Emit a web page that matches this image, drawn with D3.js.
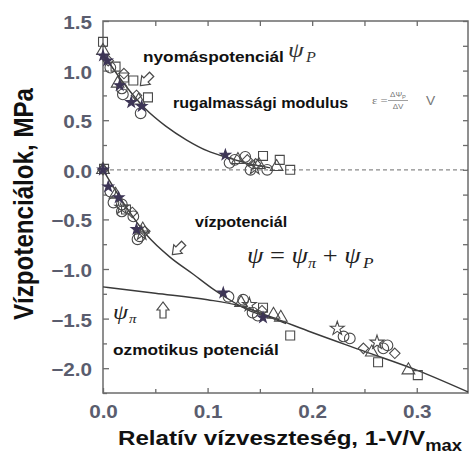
<!DOCTYPE html>
<html>
<head>
<meta charset="utf-8">
<script src="https://cdn.jsdelivr.net/npm/d3@7"></script>
<style>
  body { margin: 0; background: #fff; }
  svg { display: block; }
</style>
</head>
<body>
<svg id="chart" width="471" height="461"></svg>
<script>
// ---- data -------------------------------------------------------------
const xTickValues = [0.0, 0.1, 0.2, 0.3];
const yTickValues = [-2.0, -1.5, -1.0, -0.5, 0.0, 0.5, 1.0, 1.5];

// fitted curves, [relative water loss, MPa]
const turgorCurve = [[0, 1.17], [0.02, 0.87], [0.04, 0.62], [0.06, 0.44], [0.08, 0.30],
  [0.10, 0.19], [0.12, 0.12], [0.14, 0.06], [0.16, 0.02]];
const waterCurve = [[0, 0], [0.02, -0.34], [0.042, -0.66], [0.064, -0.88], [0.086, -1.05],
  [0.105, -1.20], [0.121, -1.31], [0.14, -1.42], [0.16, -1.49], [0.175, -1.55]];
const osmoticCurve = [[0, -1.18], [0.05, -1.245], [0.10, -1.31], [0.13, -1.37], [0.16, -1.48],
  [0.20, -1.64], [0.25, -1.83], [0.30, -2.02], [0.349, -2.24]];

// measured points, one array per marker type
const circlePoints = [[0.007, 1.03], [0.018, 0.82], [0.019, 0.76], [0.036, 0.57],
  [0.121, 0.07], [0.126, 0.10], [0.136, 0.13], [0.141, 0.0], [0.157, 0.0],
  [0.007, -0.22], [0.010, -0.33], [0.018, -0.35], [0.018, -0.42], [0.029, -0.47], [0.035, -0.67], [0.033, -0.70],
  [0.120, -1.28], [0.134, -1.31], [0.143, -1.44], [0.148, -1.47],
  [0.230, -1.68], [0.236, -1.70], [0.272, -1.77], [0.268, -1.80]];
const squarePoints = [[0, 1.29], [0.012, 1.04], [0.020, 0.93], [0.029, 0.90], [0.043, 0.73],
  [0.153, 0.14], [0.169, 0.10], [0.179, 0.0],
  [0.001, 0.01], [0.022, -0.40],
  [0.153, -1.39], [0.179, -1.67],
  [0.263, -1.94], [0.301, -2.07]];
const trianglePoints = [[0, 1.20], [0.014, 0.87], [0.034, 0.70],
  [0.129, 0.10], [0.149, 0.05], [0.166, 0.03],
  [0, 0.0], [0.012, -0.25], [0.038, -0.60],
  [0.132, -1.34], [0.163, -1.46], [0.170, -1.49],
  [0.257, -1.84], [0.292, -2.02]];
const diamondPoints = [[0.005, 1.10], [0.020, 0.97], [0.032, 0.75],
  [0.138, 0.10], [0.146, 0.06],
  [0, 0], [0.028, -0.43], [0.040, -0.62],
  [0.152, -1.42],
  [0.249, -1.80], [0.279, -1.85]];
const openStarPoints = [[0.145, 0.02], [0.018, -0.38], [0.037, -0.64],
  [0.140, -1.36], [0.224, -1.60], [0.262, -1.74]];
const darkStarPoints = [[0, 1.15], [0.004, 1.10], [0.016, 0.85], [0.027, 0.68], [0.037, 0.64],
  [0.117, 0.15], [0, 0], [0.005, -0.17], [0.015, -0.28], [0.032, -0.60],
  [0.115, -1.24], [0.153, -1.49]];

// ---- layout -----------------------------------------------------------
const SX = 1.15;                         // horizontal stretch applied to all lettering
const plot = { left: 103, right: 468, top: 21, bottom: 393 };
const svg = d3.select("#chart");

const x = d3.scaleLinear().domain([0, 0.349]).range([plot.left, plot.right]);
const y = d3.scaleLinear().domain([-2.25, 1.5]).range([plot.bottom, plot.top]);

const sans = "'Liberation Sans', Arial, sans-serif";
const serif = "'Liberation Serif', 'Times New Roman', serif";
const frameColor = "#6b6b6b";
const tickLabelColor = "#5a5d6e";

// zero reference line
svg.append("line")
  .attr("x1", x(0)).attr("x2", plot.right)
  .attr("y1", y(0)).attr("y2", y(0))
  .attr("stroke", "#8a8a8a").attr("stroke-width", 1.2)
  .attr("stroke-dasharray", "4,3");

// ---- axes (ticks point inward) -----------------------------------------
function styleAxis(g) {
  g.select(".domain").remove();
  g.selectAll("line").attr("stroke", frameColor).attr("stroke-width", 1.3);
}

const yMinor = d3.range(-2.25, 1.51, 0.25).filter(v => Math.abs(Math.round(v * 2) - v * 2) > 1e-6);
const xMinor = d3.range(0.05, 0.35, 0.1);

svg.append("g").attr("transform", `translate(${plot.left},0)`)
  .call(d3.axisLeft(y).tickValues(yTickValues).tickSize(-6).tickPadding(9.5)
    .tickFormat(d3.format(".1f")))
  .call(styleAxis)
  .call(g => g.selectAll("text")
    .attr("transform", `scale(${SX},1)`)
    .attr("dy", "0.42em")
    .attr("font-family", sans).attr("font-weight", "bold").attr("font-size", 18)
    .attr("fill", tickLabelColor));

svg.append("g").attr("transform", `translate(${plot.left},0)`)
  .call(d3.axisLeft(y).tickValues(yMinor).tickSize(-4).tickFormat(""))
  .call(styleAxis);

svg.append("g").attr("transform", `translate(${plot.right},0)`)
  .call(d3.axisRight(y).tickValues(d3.range(-2.0, 1.51, 0.25)).tickSize(-5).tickFormat(""))
  .call(styleAxis);

svg.append("g").attr("transform", `translate(0,${plot.bottom})`)
  .call(d3.axisBottom(x).tickValues(xTickValues).tickSize(-5).tickPadding(12)
    .tickFormat(d3.format(".1f")))
  .call(styleAxis)
  .call(g => g.selectAll("text")
    .attr("transform", `scale(${SX},1)`)
    .attr("font-family", sans).attr("font-weight", "bold").attr("font-size", 18)
    .attr("fill", tickLabelColor));

svg.append("g").attr("transform", `translate(0,${plot.bottom})`)
  .call(d3.axisBottom(x).tickValues(xMinor).tickSize(-4).tickFormat(""))
  .call(styleAxis);

svg.append("g").attr("transform", `translate(0,${plot.top})`)
  .call(d3.axisTop(x).tickValues(d3.range(0.05, 0.349, 0.05)).tickSize(-5).tickFormat(""))
  .call(styleAxis);

// frame
svg.append("rect")
  .attr("x", plot.left).attr("y", plot.top)
  .attr("width", plot.right - plot.left).attr("height", plot.bottom - plot.top)
  .attr("fill", "none").attr("stroke", frameColor).attr("stroke-width", 1.5);

// ---- curves -----------------------------------------------------------
const line = d3.line().x(d => x(d[0])).y(d => y(d[1])).curve(d3.curveMonotoneX);
[turgorCurve, waterCurve, osmoticCurve].forEach(c => {
  svg.append("path").datum(c).attr("d", line)
    .attr("fill", "none").attr("stroke", "#3a3a3a").attr("stroke-width", 1.4);
});

// ---- markers ----------------------------------------------------------
const markerSets = [
  { pts: circlePoints,   type: d3.symbolCircle,   size: 90, fill: "none" },
  { pts: squarePoints,   type: d3.symbolSquare,   size: 80, fill: "none" },
  { pts: trianglePoints, type: d3.symbolTriangle, size: 70, fill: "none" },
  { pts: diamondPoints,  type: d3.symbolDiamond2 || d3.symbolDiamond, size: 70, fill: "none" },
  { pts: openStarPoints, type: d3.symbolStar,     size: 60, fill: "none" },
  { pts: darkStarPoints, type: d3.symbolStar,     size: 34, fill: "#3d3556" }
];
markerSets.forEach(s => {
  svg.append("g").selectAll("path").data(s.pts).join("path")
    .attr("transform", d => `translate(${x(d[0])},${y(d[1])})`)
    .attr("d", d3.symbol().type(s.type).size(s.size))
    .attr("fill", s.fill)
    .attr("stroke", s.fill === "none" ? "#4a4a4a" : "#3d3556")
    .attr("stroke-width", 1.1);
});

// ---- hollow block arrows ------------------------------------------------
const arrowShape = "M8,0 L0,-6 L0,-3 L-8,-3 L-8,3 L0,3 L0,6 Z";
[[146, 80, 135], [178, 249, 135], [163, 310, -90]].forEach(([ax, ay, rot]) => {
  svg.append("path").attr("d", arrowShape)
    .attr("transform", `translate(${ax},${ay}) rotate(${rot})`)
    .attr("fill", "#fff").attr("stroke", "#4a4a4a").attr("stroke-width", 1.2);
});

// ---- lettering --------------------------------------------------------
function text(px, py, opts) {
  return svg.append("text")
    .attr("transform", `translate(${px},${py}) scale(${SX},1)` + (opts.rotate ? ` rotate(${opts.rotate})` : ""))
    .attr("font-family", opts.family || sans)
    .attr("font-weight", opts.weight || "bold")
    .attr("font-style", opts.style || "normal")
    .attr("font-size", opts.size)
    .attr("fill", opts.fill || "#111")
    .attr("text-anchor", opts.anchor || "start");
}

// axis titles
text(33, 204, { size: 24, rotate: -90, anchor: "middle" })
  .attr("textLength", 232).attr("lengthAdjust", "spacingAndGlyphs")
  .text("Vízpotenciálok, MPa");
const xt = text(118, 445, { size: 21 });
xt.append("tspan").text("Relatív vízveszteség, 1-V/V");
xt.append("tspan").attr("font-size", 16).attr("dy", 6).text("max");

// curve annotations
text(143, 62, { size: 15 }).text("nyomáspotenciál");
const psiP = text(288, 57, { size: 22, family: serif, weight: "normal", style: "italic", fill: "#333" });
psiP.append("tspan").text("ψ");
psiP.append("tspan").attr("font-size", 14).attr("dy", 5).attr("dx", 2).text("P");

text(173, 108, { size: 14 }).text("rugalmassági modulus");

// ε = ΔΨP/ΔV · V
text(372, 104, { size: 11, family: serif, weight: "normal", fill: "#777" }).text("ε =");
const num = text(398, 97, { size: 7, weight: "normal", fill: "#777", anchor: "middle" });
num.append("tspan").text("ΔΨ");
num.append("tspan").attr("font-size", 5).attr("dy", 1.5).text("P");
svg.append("line").attr("x1", 388).attr("x2", 408).attr("y1", 100.5).attr("y2", 100.5)
  .attr("stroke", "#888").attr("stroke-width", 0.8);
text(398, 109, { size: 7, weight: "normal", fill: "#777", anchor: "middle" }).text("ΔV");
text(426, 105, { size: 12, weight: "normal", fill: "#777" }).text("V");

text(195, 227, { size: 14 }).text("vízpotenciál");

const eq = text(247, 263, { size: 23, family: serif, weight: "normal", style: "italic", fill: "#222" });
eq.append("tspan").text("ψ");
eq.append("tspan").attr("font-style", "normal").text(" = ");
eq.append("tspan").text("ψ");
eq.append("tspan").attr("font-size", 14).attr("dy", 5).text("π");
eq.append("tspan").attr("font-style", "normal").attr("dy", -5).text(" + ");
eq.append("tspan").text("ψ");
eq.append("tspan").attr("font-size", 15).attr("dy", 5).attr("dx", 2).text("P");

const psiPi = text(113, 319, { size: 21, family: serif, weight: "normal", style: "italic", fill: "#222" });
psiPi.append("tspan").text("ψ");
psiPi.append("tspan").attr("font-size", 13).attr("dy", 4).attr("dx", 1).text("π");

text(113, 355, { size: 15 }).text("ozmotikus potenciál");
</script>
</body>
</html>
